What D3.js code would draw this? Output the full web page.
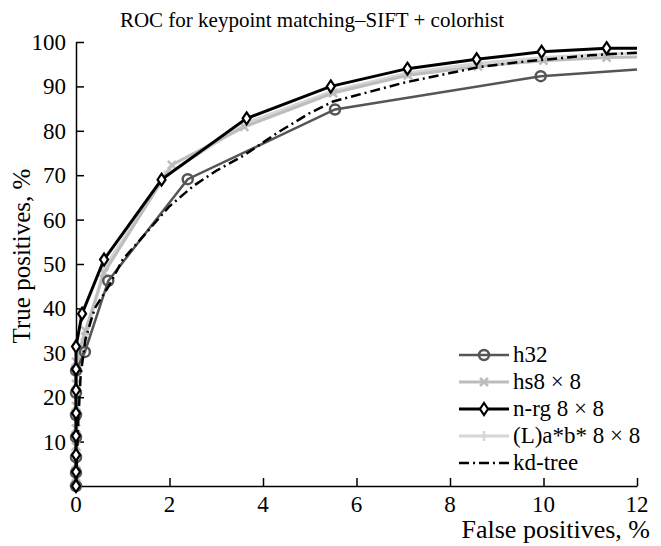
<html>
<head>
<script src="https://d3js.org/d3.v7.min.js"></script>
<style>
body { margin: 0; background: #fff; }
svg { display: block; font-family: 'Liberation Serif', 'Times New Roman', serif; }
</style>
</head>
<body>
<svg width="661" height="546"></svg>
<script>
// data (false positives %, true positives %)
var h32 = [[0,0],[0,3],[0,6.5],[0,11],[0,16],[0,21],[0,26],[0.19,30.2],[0.69,46.2],[2.39,69.1],[5.54,84.8],[9.94,92.3],[12,93.8]];
var hs8 = [[0,0],[0,2],[0,5],[0,9],[0,13],[0,18],[0,23],[0,28],[0.2,35],[0.6,48],[2.05,72.3],[3.6,80.9],[5.5,88.5],[7.1,92.5],[8.6,94.5],[10,95.8],[11.35,96.5],[12,96.6]];
var nrg = [[0,0],[0,3.2],[0,7],[0,11.3],[0,16.4],[0,21.6],[0,26.3],[0,31.4],[0.13,38.8],[0.6,51],[1.83,69],[3.65,82.8],[5.45,90],[7.09,94],[8.57,96.1],[9.96,97.8],[11.35,98.6],[12,98.6]];
var lab = [[0,0],[0,4],[0,8],[0,12],[0,17],[0,22],[0,27],[0.2,33],[0.6,49],[1.9,70],[3.7,82],[5.5,89],[7.1,93],[8.6,95.2],[10,96.5],[11.35,97.3],[12,97.4]];
var kdtree = [[0,0],[0.05,15],[0.1,25],[0.2,33],[0.4,40],[0.7,45],[1.0,51],[1.5,57],[2.0,63],[2.5,67.5],[3,71],[3.6,74.5],[4.3,79.5],[5,84],[5.5,86.6],[6,88],[7,90.8],[8,93],[8.6,94.3],[9.5,95.5],[10,96],[11,97],[12,97.6]];

var xTicks = [0, 2, 4, 6, 8, 10, 12];
var yTicks = [10, 20, 30, 40, 50, 60, 70, 80, 90, 100];
var names = ["h32", "hs8 \u00d7 8", "n-rg 8 \u00d7 8", "(L)a*b* 8 \u00d7 8", "kd-tree"];

var svg = d3.select("svg");
var x = d3.scaleLinear().domain([0, 12]).range([76, 637]);
var y = d3.scaleLinear().domain([0, 100]).range([486, 42]);

var series = [
  {name: names[0], data: h32, color: "#555", width: 2.5, marker: "circle"},
  {name: names[1], data: hs8, color: "#bdbdbd", width: 3, marker: "x"},
  {name: names[2], data: nrg, color: "#000", width: 3, marker: "diamond"},
  {name: names[3], data: lab, color: "#d6d6d6", width: 3, marker: "plus"},
  {name: names[4], data: kdtree, color: "#000", width: 2.5, marker: null, dash: "10,4,2,4"}
];

// axes (inward ticks, no box)
svg.append("g").attr("transform", "translate(0,486)")
  .call(d3.axisTop(x).tickValues(xTicks).tickSize(8).tickSizeOuter(0).tickFormat(""))
  .call(function(g){ g.selectAll("line,path").attr("stroke", "#000").attr("stroke-width", 1.5); });
svg.append("g").attr("transform", "translate(76,0)")
  .call(d3.axisRight(y).tickValues(yTicks).tickSize(8).tickSizeOuter(0).tickFormat(""))
  .call(function(g){ g.selectAll("line,path").attr("stroke", "#000").attr("stroke-width", 1.5); });

svg.selectAll("text.xt").data(xTicks).enter().append("text")
  .attr("x", function(d){ return x(d); }).attr("y", 512)
  .attr("text-anchor", "middle").attr("font-size", 23).text(function(d){ return d; });
svg.selectAll("text.yt").data(yTicks).enter().append("text")
  .attr("x", 66).attr("y", function(d){ return y(d) + 8; })
  .attr("text-anchor", "end").attr("font-size", 23).text(function(d){ return d; });

var line = d3.line().x(function(d){ return x(d[0]); }).y(function(d){ return y(d[1]); });

function marker(g, type, color, px, py) {
  if (type === "circle") {
    g.append("circle").attr("cx", px).attr("cy", py).attr("r", 5)
      .attr("fill", "none").attr("stroke", color).attr("stroke-width", 2.5);
  } else if (type === "diamond") {
    g.append("path").attr("d", "M0,-6L4,0L0,6L-4,0Z")
      .attr("transform", "translate(" + px + "," + py + ")")
      .attr("fill", "#fff").attr("stroke", color).attr("stroke-width", 2.2);
  } else if (type === "x") {
    g.append("path").attr("d", "M-4,-4L4,4M-4,4L4,-4")
      .attr("transform", "translate(" + px + "," + py + ")")
      .attr("stroke", color).attr("stroke-width", 2.5);
  } else if (type === "plus") {
    g.append("path").attr("d", "M-5,0L5,0M0,-5L0,5")
      .attr("transform", "translate(" + px + "," + py + ")")
      .attr("stroke", color).attr("stroke-width", 2.5);
  }
}

// draw light series first, dark on top
var order = [3, 1, 0, 4, 2];
order.forEach(function(i) {
  var s = series[i];
  var g = svg.append("g");
  g.append("path").datum(s.data).attr("d", line)
    .attr("fill", "none").attr("stroke", s.color).attr("stroke-width", s.width)
    .attr("stroke-dasharray", s.dash || null);
  if (s.marker) {
    s.data.slice(0, s.data.length - 1).forEach(function(d) {
      marker(g, s.marker, s.color, x(d[0]), y(d[1]));
    });
  }
});

// legend
series.forEach(function(s, i) {
  var ly = 355 + i * 27;
  var g = svg.append("g");
  g.append("line").attr("x1", 459).attr("x2", 509).attr("y1", ly).attr("y2", ly)
    .attr("stroke", s.color).attr("stroke-width", s.width).attr("stroke-dasharray", s.dash || null);
  if (s.marker) marker(g, s.marker, s.color, 484, ly);
  g.append("text").attr("x", 513).attr("y", ly + 7).attr("font-size", 23).text(s.name);
});

svg.append("text").attr("x", 312).attr("y", 27).attr("text-anchor", "middle")
  .attr("font-size", 21).text("ROC for keypoint matching\u2013SIFT + colorhist");
svg.append("text").attr("x", 650).attr("y", 538).attr("text-anchor", "end")
  .attr("font-size", 26).text("False positives, %");
svg.append("text").attr("transform", "translate(30,256) rotate(-90)").attr("text-anchor", "middle")
  .attr("font-size", 25).text("True positives, %");
</script>
</body>
</html>
